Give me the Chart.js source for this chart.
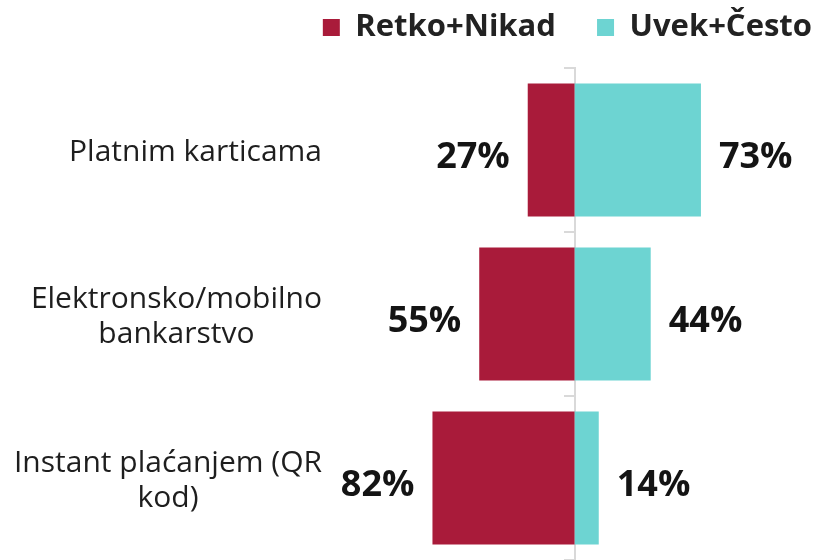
<!DOCTYPE html>
<html>
<head>
<meta charset="utf-8">
<script src="https://cdn.jsdelivr.net/npm/chart.js@4"></script>
<style>
  html, body { margin: 0; padding: 0; background: #fff; }
  #wrap { width: 817px; height: 560px; }
</style>
</head>
<body>
<div id="wrap"><canvas id="paymentChart"></canvas></div>
<script>
const categories = [
  ['Platnim karticama'],
  ['Elektronsko/mobilno', 'bankarstvo'],
  ['Instant plaćanjem (QR', 'kod)']
];
const retkoNikad = [27, 55, 82];
const uvekCesto = [73, 44, 14];

const FONT = "'Open Sans', 'Noto Sans', sans-serif";

// category names: block right-aligned next to the bars, lines centred inside it
const categoryLabels = {
  id: 'categoryLabels',
  afterDraw(chart) {
    const c = chart.ctx;
    const y = chart.scales.y;
    c.save();
    c.font = '30px ' + FONT;
    c.fillStyle = '#1e1e1e';
    c.textAlign = 'center';
    c.textBaseline = 'alphabetic';
    categories.forEach((lines, i) => {
      const w = Math.max(...lines.map(t => c.measureText(t).width));
      const cx = 322 - w / 2;
      const mid = y.getPixelForTick(i);
      lines.forEach((t, k) => {
        c.fillText(t, cx, mid + 11 + (k - (lines.length - 1) / 2) * 35);
      });
    });
    c.restore();
  }
};

// the % next to the outer end of each bar
const valueLabels = {
  id: 'valueLabels',
  afterDatasetsDraw(chart) {
    const c = chart.ctx;
    c.save();
    c.font = 'bold 36px ' + FONT;
    c.fillStyle = '#141414';
    c.textBaseline = 'alphabetic';
    chart.data.datasets.forEach((ds, i) => {
      chart.getDatasetMeta(i).data.forEach((bar, j) => {
        const v = Math.abs(ds.data[j]);
        if (ds.data[j] < 0) {
          c.textAlign = 'right';
          c.fillText(v + '%', Math.min(bar.x, bar.base) - 18, bar.y + 18);
        } else {
          c.textAlign = 'left';
          c.fillText(v + '%', Math.max(bar.x, bar.base) + 18, bar.y + 18);
        }
      });
    });
    c.restore();
  }
};

new Chart(document.getElementById('paymentChart'), {
  type: 'bar',
  data: {
    labels: categories.map(l => l.join(' ')),
    datasets: [{
      label: 'Retko+Nikad',
      data: retkoNikad.map(v => -v),
      backgroundColor: '#A91B3A',
      barPercentage: 0.9,
      categoryPercentage: 0.9
    }, {
      label: 'Uvek+Često',
      data: uvekCesto,
      backgroundColor: '#6DD4D2',
      barPercentage: 0.9,
      categoryPercentage: 0.9
    }]
  },
  options: {
    indexAxis: 'y',
    responsive: true,
    maintainAspectRatio: false,
    animation: false,
    // negative padding lets the legend sit higher and further right than Chart.js would put it
    layout: { padding: { top: -13, right: -20, left: 0, bottom: 0 } },
    plugins: {
      legend: {
        position: 'top',
        align: 'end',
        labels: {
          color: '#222',
          font: { family: FONT, size: 31, weight: 'bold' },
          boxWidth: 17,
          boxHeight: 17,
          padding: 25,
          generateLabels(chart) {
            const items = Chart.defaults.plugins.legend.labels.generateLabels(chart);
            items[0].text += '  ';
            return items;
          }
        }
      },
      tooltip: { enabled: false }
    },
    scales: {
      x: {
        stacked: true,
        min: -140,
        max: 140,
        display: false
      },
      // empty top axis, only there to leave a gap under the legend
      xGap: {
        type: 'linear',
        position: 'top',
        grid: { display: false },
        border: { display: false },
        ticks: { display: false },
        afterFit: s => { s.height = 15; }
      },
      y: {
        stacked: true,
        position: 'left',
        grid: { display: false },
        border: { display: false },
        ticks: { display: false },
        afterFit: s => {
          s.width = 332;
          s.paddingTop = 0;
          s.paddingBottom = 0;
        }
      },
      y2: {
        type: 'category',
        axis: 'y',
        position: { x: 0 },
        offset: true,
        grid: { offset: true, drawOnChartArea: false, tickLength: 10, color: '#d9d9d9', lineWidth: 2 },
        border: { color: '#d9d9d9', width: 2 },
        ticks: { display: false }
      }
    }
  },
  plugins: [valueLabels, categoryLabels]
});
</script>
</body>
</html>
